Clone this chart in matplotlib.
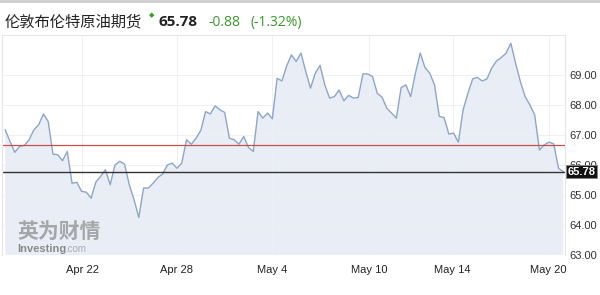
import numpy as np
import matplotlib
matplotlib.use('Agg')
import matplotlib.pyplot as plt

# price series (roughly evenly spaced samples)
prices = [
    67.17, 66.78, 66.42, 66.62, 66.65, 66.84, 67.17, 67.34, 67.70, 67.45,
    66.36, 66.34, 66.14, 66.45, 65.39, 65.42, 65.12, 65.09, 64.89, 65.43,
    65.62, 65.84, 65.34, 66.00, 66.12, 66.03, 65.34, 64.84, 64.25, 65.23,
    65.23, 65.39, 65.58, 65.70, 66.00, 66.06, 65.89, 66.06, 66.84, 66.69,
    66.89, 67.15, 67.78, 67.70, 67.97, 67.84, 67.75, 66.89, 66.84, 66.69,
    66.95, 66.58, 66.45, 67.78, 67.56, 67.73, 67.54, 68.89, 68.80, 69.30,
    69.67, 69.45, 69.73, 69.12, 68.56, 69.06, 69.32, 68.67, 68.23, 68.28,
    68.50, 68.14, 68.32, 68.23, 68.25, 69.04, 69.03, 68.95, 68.39, 68.26,
    67.89, 67.73, 67.56, 68.58, 68.67, 68.28, 69.06, 69.73, 69.25, 69.06,
    68.67, 67.62, 67.58, 67.03, 67.06, 66.76, 67.84, 68.39, 68.87, 68.92,
    68.80, 68.87, 69.23, 69.47, 69.58, 69.73, 70.06, 69.39, 68.78, 68.28,
    68.00, 67.67, 66.50, 66.67, 66.76, 66.70, 65.89, 65.78,
]
last_price = 65.78
prev_close = 66.66
change = -0.88
change_pct = -1.32

tick_labels = ['Apr 22', 'Apr 28', 'May 4', 'May 10', 'May 14', 'May 20']
tick_pos = [16.1, 36.0, 56.0, 76.3, 93.8, 113.9]
y_ticks = [63, 64, 65, 66, 67, 68, 69]

title_cn = '伦敦布伦特原油期货'

fig = plt.figure(figsize=(6, 2.95), dpi=100)
fig.patch.set_facecolor('white')
ax = fig.add_axes([0.004, 0.136, 0.938, 0.745])

x = np.arange(len(prices))
ax.fill_between(x, prices, 60, color='#e9eef6', lw=0)
ax.plot(x, prices, color='#8ea6c6', lw=1.0)
ax.axhline(prev_close, color='#c8504c', lw=0.9)
ax.axhline(last_price, color='#333333', lw=1.0)

ax.set_xlim(-0.6, len(prices) - 0.6)
ax.set_ylim(63, 70.33)
ax.set_xticks(tick_pos)
ax.set_xticklabels(tick_labels, fontsize=8, color='#222222', family='Liberation Sans')
ax.set_yticks(y_ticks)
ax.set_yticklabels([f'{v:.2f}' for v in y_ticks], fontsize=8, color='#333333',
                   family='Liberation Sans')
ax.yaxis.tick_right()
ax.tick_params(axis='both', length=0)
ax.tick_params(axis='y', pad=3)
ax.tick_params(axis='x', pad=7)
ax.grid(True, color='#eef0f4', lw=0.7)
for s in ['top', 'left', 'right', 'bottom']:
    ax.spines[s].set_color('#e4e6ea')
    ax.spines[s].set_linewidth(0.8)
ax.spines['bottom'].set_visible(False)

# current price tag (sits over the 66.00 label like in the original)
ax.text(1.004, last_price, f'{last_price:.2f}', transform=ax.get_yaxis_transform(),
        fontsize=8, color='white', fontweight='bold', va='center', ha='left',
        family='Liberation Sans', zorder=5,
        bbox=dict(boxstyle='square,pad=0.15', fc='#111111', ec='#888888', lw=0.6))

# watermark
ax.text(0.027, 0.078, '英为财情', transform=ax.transAxes, fontsize=15, color='#9a9a9a',
        fontweight='bold', family=['Noto Sans CJK SC', 'DejaVu Sans'], alpha=0.85,
        va='baseline')
ax.text(0.027, 0.015, 'Investing', transform=ax.transAxes, fontsize=8,
        color='#8a8a8a', fontweight='bold', family='Liberation Sans', va='baseline')
ax.text(0.112, 0.015, '.com', transform=ax.transAxes, fontsize=7,
        color='#aaaaaa', family='Liberation Sans', va='baseline')

# header
fig.add_artist(plt.Line2D([0, 1], [0.997, 0.997], color='#cccccc', lw=2))
fig.text(0.008, 0.925, title_cn, fontsize=11, color='#222222',
         family=['Noto Sans CJK SC', 'DejaVu Sans'], va='center')
fig.text(0.249, 0.948, '\u25c6', fontsize=5, color='#3a9a2a', va='center')
fig.text(0.264, 0.925, f'{last_price:.2f}', fontsize=11, color='#222222',
         fontweight='bold', family='Open Sans', va='center')
fig.text(0.347, 0.925, f'{change:.2f}', fontsize=10, color='#3a9a2a',
         family='Open Sans', va='center')
fig.text(0.418, 0.925, f'({change_pct:.2f}%)', fontsize=10, color='#3a9a2a',
         family='Open Sans', va='center')

fig.savefig('out.png', dpi=100)
